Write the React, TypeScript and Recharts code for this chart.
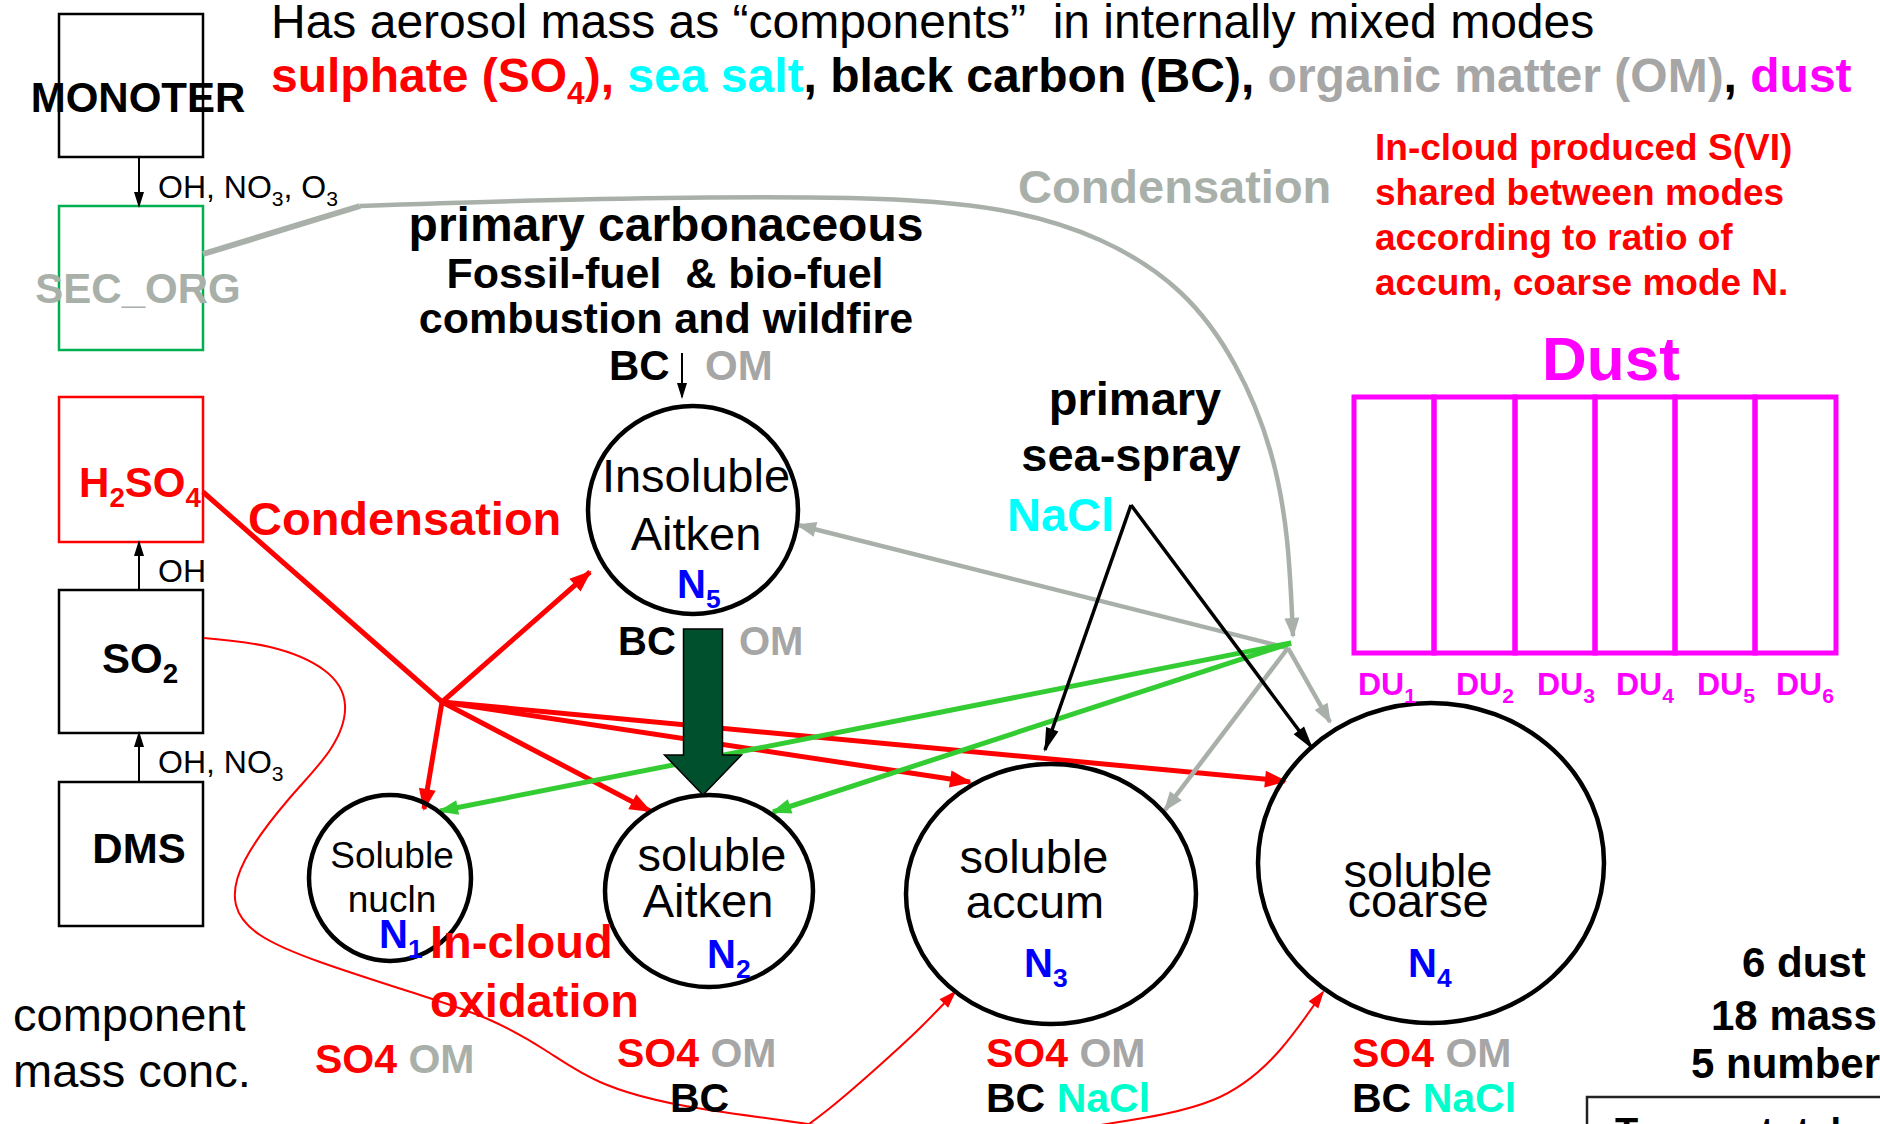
import React from "react";
import { ComposedChart, XAxis, YAxis, Scatter, Line, ReferenceArea } from "recharts";

const W = 1880;
const H = 1124;
const FONT = "'Liberation Sans', Arial, Helvetica, sans-serif";

const COLORS: Record<string, string> = {
  black: "#000000",
  red: "#ff0000",
  cyan: "#00ffff",
  om: "#a6a6a6",
  grey: "#a9b0aa",
  magenta: "#ff00ff",
  blue: "#0000ff",
  green: "#33cc33",
  nacl: "#00ffcc",
  secorg: "#00b050",
  dark: "#004f2d",
};

// species boxes in the left column
const SPECIES = ["MONOTER", "SEC_ORG", "H2SO4", "SO2", "DMS"];
const SPECIES_EDGE = ["black", "secorg", "red", "black", "black"];
const SPECIES_TOP = [14, 206, 397, 590, 782];
const SPECIES_BOTTOM = [157, 350, 542, 733, 926];
const SPECIES_X = [59, 203];

// aerosol modes (ellipses)
const MODES = ["nucln", "aitken", "accum", "coarse", "insoluble"];
const MODE_X = [390, 709, 1051, 1431, 693];
const MODE_Y = [878, 891, 894, 863, 510];
const MODE_RX = [81, 104, 145, 173, 105];
const MODE_RY = [83, 96, 130, 160, 104];

// dust bins
const DUST_BINS = ["1", "2", "3", "4", "5", "6"];
const DUST_EDGES = [1354, 1434, 1515, 1595, 1675, 1755, 1836];
const DUST_Y = [397, 653];
const DUST_LABEL_X = [1358, 1456, 1537, 1616, 1697, 1776];
const DUST_LABEL_Y = 695;

// straight connectors [x1, y1, x2, y2]
type Seg = [number, number, number, number];
const RED_ARROWS: Seg[] = [
  [442, 702, 590, 572],
  [442, 702, 424, 809],
  [442, 702, 650, 811],
  [442, 702, 970, 782],
  [442, 702, 1285, 781],
];
const RED_LINES: Seg[] = [[203, 492, 442, 702]];
const GREY_ARROWS: Seg[] = [
  [1288, 648, 798, 525],
  [1288, 648, 1165, 810],
  [1288, 648, 1330, 722],
];
const GREY_LINES: Seg[] = [[203, 254, 360, 206]];
const GREEN_ARROWS: Seg[] = [
  [1291, 643, 440, 811],
  [1291, 643, 773, 812],
];
const BLACK_ARROWS: Seg[] = [
  [1131, 505, 1045, 750],
  [1131, 505, 1312, 748],
];
const THIN_ARROWS: Seg[] = [
  [139, 157, 139, 206],
  [139, 590, 139, 542],
  [139, 782, 139, 733],
  [682, 353, 682, 397],
];

// curved connectors, points read along the path
const GREY_CURVE = [
  [360, 206], [600, 199], [850, 198], [1000, 210], [1100, 240], [1180, 292],
  [1235, 365], [1270, 450], [1287, 540], [1293, 636],
];
const SO2_CURVE = [
  [204, 638], [270, 647], [324, 670], [345, 705], [330, 750], [288, 800], [245, 860],
  [236, 905], [260, 935], [320, 962], [420, 995], [490, 1020], [545, 1050], [600, 1082],
  [680, 1105], [780, 1120], [880, 1135],
];
const ACCUM_CURVE = [[780, 1145], [830, 1108], [880, 1065], [920, 1028], [955, 992]];
const COARSE_CURVE = [[950, 1150], [1040, 1135], [1113, 1123], [1213, 1100], [1280, 1050], [1323, 992]];

// dark green BC transfer arrow
const BIG_ARROW = { x: 703, top: 629, neck: 755, tip: 795, shaft: 19.5, head: 38.5 };

// bottom-right frame
const FRAME = [1587, 1097];

type Part = [string, string, number?];
interface Label { x: number; y: number; st: string; anchor?: "start" | "middle"; parts: Part[] }

const STYLES: Record<string, { size: number; weight: number }> = {
  title: { size: 48, weight: 400 },
  titleB: { size: 48, weight: 700 },
  b62: { size: 62, weight: 700 },
  b48: { size: 48, weight: 700 },
  b47: { size: 47, weight: 700 },
  b43: { size: 43, weight: 700 },
  b42: { size: 42, weight: 700 },
  b41: { size: 41, weight: 700 },
  b40: { size: 40, weight: 700 },
  b38: { size: 38, weight: 700 },
  b37: { size: 37, weight: 700 },
  b32: { size: 32, weight: 700 },
  r47: { size: 47, weight: 400 },
  r37: { size: 37, weight: 400 },
  r32: { size: 32, weight: 400 },
};

const LABELS: Label[] = [
  { x: 271, y: 38, st: "title", parts: [["Has aerosol mass as “components”  in internally mixed modes", "black"]] },
  {
    x: 271, y: 92, st: "titleB",
    parts: [["sulphate (SO", "red"], ["4", "red", 1], ["), ", "red"], ["sea salt", "cyan"], [", black carbon (BC), ", "black"], ["organic matter (OM)", "om"], [", ", "black"], ["dust", "magenta"]],
  },
  { x: 1018, y: 203, st: "b47", parts: [["Condensation", "grey"]] },
  { x: 1375, y: 160, st: "b37", parts: [["In-cloud produced S(VI)", "red"]] },
  { x: 1375, y: 205, st: "b37", parts: [["shared between modes", "red"]] },
  { x: 1375, y: 250, st: "b37", parts: [["according to ratio of", "red"]] },
  { x: 1375, y: 295, st: "b37", parts: [["accum, coarse mode N.", "red"]] },
  { x: 1542, y: 380, st: "b62", parts: [["Dust", "magenta"]] },
  { x: 138, y: 112, st: "b42", anchor: "middle", parts: [["MONOTER", "black"]] },
  { x: 138, y: 303, st: "b42", anchor: "middle", parts: [["SEC_ORG", "grey"]] },
  { x: 140, y: 497, st: "b42", anchor: "middle", parts: [["H", "red"], ["2", "red", 1], ["SO", "red"], ["4", "red", 1]] },
  { x: 140, y: 673, st: "b42", anchor: "middle", parts: [["SO", "black"], ["2", "black", 1]] },
  { x: 139, y: 863, st: "b42", anchor: "middle", parts: [["DMS", "black"]] },
  { x: 158, y: 198, st: "r32", parts: [["OH, NO", "black"], ["3", "black", 1], [", O", "black"], ["3", "black", 1]] },
  { x: 158, y: 582, st: "r32", parts: [["OH", "black"]] },
  { x: 158, y: 773, st: "r32", parts: [["OH, NO", "black"], ["3", "black", 1]] },
  { x: 666, y: 241, st: "b48", anchor: "middle", parts: [["primary carbonaceous", "black"]] },
  { x: 665, y: 288, st: "b43", anchor: "middle", parts: [["Fossil-fuel  & bio-fuel", "black"]] },
  { x: 666, y: 333, st: "b43", anchor: "middle", parts: [["combustion and wildfire", "black"]] },
  { x: 609, y: 380, st: "b42", parts: [["BC", "black"]] },
  { x: 705, y: 380, st: "b42", parts: [["OM", "om"]] },
  { x: 248, y: 535, st: "b47", parts: [["Condensation", "red"]] },
  { x: 696, y: 492, st: "r47", anchor: "middle", parts: [["Insoluble", "black"]] },
  { x: 696, y: 550, st: "r47", anchor: "middle", parts: [["Aitken", "black"]] },
  { x: 677, y: 598, st: "b40", parts: [["N", "blue"], ["5", "blue", 1]] },
  { x: 618, y: 655, st: "b40", parts: [["BC", "black"]] },
  { x: 739, y: 655, st: "b40", parts: [["OM", "om"]] },
  { x: 1135, y: 415, st: "b47", anchor: "middle", parts: [["primary", "black"]] },
  { x: 1131, y: 471, st: "b47", anchor: "middle", parts: [["sea-spray", "black"]] },
  { x: 1007, y: 531, st: "b47", parts: [["NaCl", "cyan"]] },
  { x: 392, y: 868, st: "r37", anchor: "middle", parts: [["Soluble", "black"]] },
  { x: 392, y: 912, st: "r37", anchor: "middle", parts: [["nucln", "black"]] },
  { x: 379, y: 948, st: "b40", parts: [["N", "blue"], ["1", "blue", 1]] },
  { x: 430, y: 958, st: "b47", parts: [["In-cloud", "red"]] },
  { x: 430, y: 1017, st: "b47", parts: [["oxidation", "red"]] },
  { x: 712, y: 871, st: "r47", anchor: "middle", parts: [["soluble", "black"]] },
  { x: 708, y: 917, st: "r47", anchor: "middle", parts: [["Aitken", "black"]] },
  { x: 707, y: 968, st: "b40", parts: [["N", "blue"], ["2", "blue", 1]] },
  { x: 1034, y: 873, st: "r47", anchor: "middle", parts: [["soluble", "black"]] },
  { x: 1035, y: 918, st: "r47", anchor: "middle", parts: [["accum", "black"]] },
  { x: 1024, y: 977, st: "b40", parts: [["N", "blue"], ["3", "blue", 1]] },
  { x: 1418, y: 887, st: "r47", anchor: "middle", parts: [["soluble", "black"]] },
  { x: 1418, y: 917, st: "r47", anchor: "middle", parts: [["coarse", "black"]] },
  { x: 1408, y: 977, st: "b40", parts: [["N", "blue"], ["4", "blue", 1]] },
  { x: 315, y: 1073, st: "b41", parts: [["SO4", "red"], [" ", "black"], ["OM", "grey"]] },
  { x: 617, y: 1067, st: "b41", parts: [["SO4", "red"], [" ", "black"], ["OM", "om"]] },
  { x: 670, y: 1112, st: "b41", parts: [["BC", "black"]] },
  { x: 986, y: 1067, st: "b41", parts: [["SO4", "red"], [" ", "black"], ["OM", "om"]] },
  { x: 986, y: 1112, st: "b41", parts: [["BC", "black"], [" ", "black"], ["NaCl", "nacl"]] },
  { x: 1352, y: 1067, st: "b41", parts: [["SO4", "red"], [" ", "black"], ["OM", "om"]] },
  { x: 1352, y: 1112, st: "b41", parts: [["BC", "black"], [" ", "black"], ["NaCl", "nacl"]] },
  { x: 13, y: 1031, st: "r47", parts: [["component", "black"]] },
  { x: 13, y: 1087, st: "r47", parts: [["mass conc.", "black"]] },
  { x: 1742, y: 977, st: "b42", parts: [["6 dust", "black"]] },
  { x: 1711, y: 1030, st: "b42", parts: [["18 mass", "black"]] },
  { x: 1691, y: 1078, st: "b42", parts: [["5 number", "black"]] },
  { x: 1615, y: 1145, st: "b38", parts: [["Tracers total", "black"]] },
];

const ARROW_STYLE: Record<string, { color: string; width: number; len: number; head: number }> = {
  red: { color: COLORS.red, width: 5, len: 20, head: 17 },
  redThin: { color: COLORS.red, width: 2, len: 16, head: 12 },
  grey: { color: COLORS.grey, width: 4.5, len: 18, head: 15 },
  greyThick: { color: COLORS.grey, width: 6, len: 18, head: 15 },
  green: { color: COLORS.green, width: 5, len: 18, head: 15 },
  black: { color: COLORS.black, width: 3.5, len: 22, head: 13 },
  thin: { color: COLORS.black, width: 2, len: 14, head: 10 },
};

const angle = (x1: number, y1: number, x2: number, y2: number) => (Math.atan2(y2 - y1, x2 - x1) * 180) / Math.PI;

const segData = (s: Seg, kind: string, head: boolean) => [
  { x: s[0], y: s[1] },
  { x: s[2], y: s[3], head, kind, ang: angle(s[0], s[1], s[2], s[3]) },
];

const curveData = (pts: number[][]) => pts.map(([x, y]) => ({ x, y }));

const curveHead = (pts: number[][], kind: string) => {
  const a = pts[pts.length - 2];
  const b = pts[pts.length - 1];
  return [{ x: b[0], y: b[1], head: true, kind, ang: angle(a[0], a[1], b[0], b[1]) }];
};

function Head(props: any) {
  const { cx, cy, payload } = props;
  if (!payload || !payload.head) return <g />;
  const s = ARROW_STYLE[payload.kind];
  return (
    <polygon
      points={`2,0 ${-s.len},${-s.head / 2} ${-s.len},${s.head / 2}`}
      transform={`translate(${cx},${cy}) rotate(${payload.ang})`}
      fill={s.color}
    />
  );
}

function ModeShape(props: any) {
  const { cx, cy, payload } = props;
  return <ellipse cx={cx} cy={cy} rx={payload.rx} ry={payload.ry} fill="none" stroke="#000" strokeWidth={4.5} />;
}

function BigArrowShape(props: any) {
  const { cx, cy, payload } = props;
  const n = payload.neck - payload.top;
  const t = payload.tip - payload.top;
  const pts = [
    [cx - payload.shaft, cy], [cx + payload.shaft, cy], [cx + payload.shaft, cy + n], [cx + payload.head, cy + n],
    [cx, cy + t], [cx - payload.head, cy + n], [cx - payload.shaft, cy + n],
  ].map((p) => p.join(",")).join(" ");
  return <polygon points={pts} fill={COLORS.dark} stroke="#000" strokeWidth={1.5} />;
}

function TextShape(props: any) {
  const { cx, cy, payload } = props;
  const st = STYLES[payload.st];
  let shift = 0;
  const spans = payload.parts.map((p: Part, i: number) => {
    const target = p[2] ? st.size * 0.24 : 0;
    const dy = target - shift;
    shift = target;
    return (
      <tspan key={i} fill={COLORS[p[1]]} fontSize={p[2] ? st.size * 0.66 : st.size} dy={dy !== 0 ? dy : undefined}>
        {p[0]}
      </tspan>
    );
  });
  return (
    <text
      x={cx}
      y={cy}
      textAnchor={payload.anchor ?? "start"}
      fontFamily={FONT}
      fontWeight={st.weight}
      fontSize={st.size}
      style={{ whiteSpace: "pre" }}
    >
      {spans}
    </text>
  );
}

export default function App() {
  const modeData = MODES.map((m, i) => ({ name: m, x: MODE_X[i], y: MODE_Y[i], rx: MODE_RX[i], ry: MODE_RY[i] }));
  const dustLabels: Label[] = DUST_BINS.map((b, i) => ({
    x: DUST_LABEL_X[i], y: DUST_LABEL_Y, st: "b32", parts: [["DU", "magenta"], [b, "magenta", 1]] as Part[],
  }));
  const labels = [...LABELS, ...dustLabels];

  const straight: { key: string; data: any[]; kind: string }[] = [
    ...GREY_LINES.map((s, i) => ({ key: `gl${i}`, data: segData(s, "greyThick", false), kind: "greyThick" })),
    ...RED_LINES.map((s, i) => ({ key: `rl${i}`, data: segData(s, "red", false), kind: "red" })),
    ...RED_ARROWS.map((s, i) => ({ key: `ra${i}`, data: segData(s, "red", true), kind: "red" })),
    ...GREY_ARROWS.map((s, i) => ({ key: `ga${i}`, data: segData(s, "grey", true), kind: "grey" })),
    ...GREEN_ARROWS.map((s, i) => ({ key: `gr${i}`, data: segData(s, "green", true), kind: "green" })),
    ...BLACK_ARROWS.map((s, i) => ({ key: `ba${i}`, data: segData(s, "black", true), kind: "black" })),
    ...THIN_ARROWS.map((s, i) => ({ key: `ta${i}`, data: segData(s, "thin", true), kind: "thin" })),
  ];

  const curves = [
    { key: "cg", pts: GREY_CURVE, kind: "grey", head: true },
    { key: "cs", pts: SO2_CURVE, kind: "redThin", head: false },
    { key: "ca", pts: ACCUM_CURVE, kind: "redThin", head: true },
    { key: "cc", pts: COARSE_CURVE, kind: "redThin", head: true },
  ];

  return (
    <div style={{ position: "absolute", left: 0, top: 0, width: W, height: H, background: "#fff" }}>
      <ComposedChart width={W} height={H} margin={{ top: 0, right: 0, bottom: 0, left: 0 }}>
        <XAxis type="number" dataKey="x" domain={[0, W]} hide allowDataOverflow />
        <YAxis type="number" dataKey="y" domain={[0, H]} reversed hide allowDataOverflow />

        {SPECIES.map((s, i) => (
          <ReferenceArea
            key={s}
            x1={SPECIES_X[0]}
            x2={SPECIES_X[1]}
            y1={SPECIES_TOP[i]}
            y2={SPECIES_BOTTOM[i]}
            fill="none"
            stroke={COLORS[SPECIES_EDGE[i]]}
            strokeWidth={2.5}
            ifOverflow="visible"
          />
        ))}
        {DUST_BINS.map((b, i) => (
          <ReferenceArea
            key={`du${b}`}
            x1={DUST_EDGES[i]}
            x2={DUST_EDGES[i + 1]}
            y1={DUST_Y[0]}
            y2={DUST_Y[1]}
            fill="none"
            stroke={COLORS.magenta}
            strokeWidth={5}
            ifOverflow="visible"
          />
        ))}
        <ReferenceArea x1={FRAME[0]} x2={W + 20} y1={FRAME[1]} y2={H + 60} fill="none" stroke="#222" strokeWidth={2.5} ifOverflow="hidden" />

        {curves.map((c) => (
          <Line
            key={c.key}
            data={curveData(c.pts)}
            dataKey="y"
            type="natural"
            dot={false}
            activeDot={false}
            stroke={ARROW_STYLE[c.kind].color}
            strokeWidth={ARROW_STYLE[c.kind].width}
            isAnimationActive={false}
          />
        ))}
        {curves.filter((c) => c.head).map((c) => (
          <Scatter key={`h${c.key}`} data={curveHead(c.pts, c.kind)} shape={Head} isAnimationActive={false} />
        ))}

        {straight.map((a) => (
          <Scatter
            key={a.key}
            data={a.data}
            line={{ stroke: ARROW_STYLE[a.kind].color, strokeWidth: ARROW_STYLE[a.kind].width }}
            shape={Head}
            isAnimationActive={false}
          />
        ))}

        <Scatter data={modeData} shape={ModeShape} isAnimationActive={false} />
        <Scatter data={[{ ...BIG_ARROW, y: BIG_ARROW.top }]} shape={BigArrowShape} isAnimationActive={false} />
        <Scatter data={labels} shape={TextShape} isAnimationActive={false} />
      </ComposedChart>
    </div>
  );
}
